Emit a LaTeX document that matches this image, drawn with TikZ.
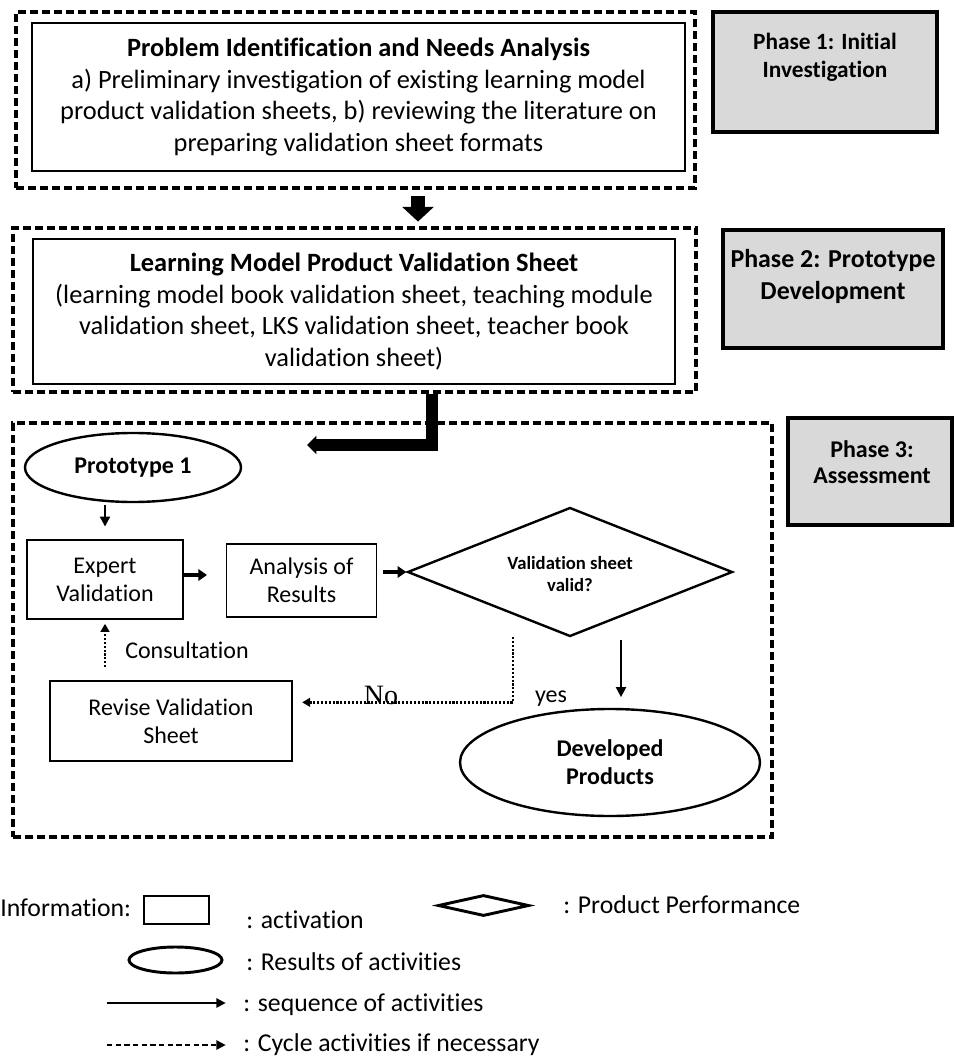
\documentclass[tikz,border=0pt]{standalone}
\usepackage{fontspec}
\setmainfont{Carlito}[Ligatures=NoCommon]
\newfontfamily\timesfont{Liberation Serif}
\usetikzlibrary{arrows.meta,shapes.geometric}
\definecolor{phgray}{HTML}{D9D9D9}
\newcommand\pxu{0.75pt}
\newcommand\maintext{\fontsize{19.8}{23.8}\selectfont}
\newcommand\smalltext{\fontsize{18}{21}\selectfont}
\newcommand\legtext{\fontsize{19.3}{22}\selectfont}
\tikzset{
  dashbox/.style={draw, line width=2.6pt, dash pattern=on 6pt off 3pt, inner sep=0pt},
  bigbox/.style={draw, line width=1.2pt, inner sep=0pt, align=center, font=\maintext},
  smallbox/.style={draw, line width=1.2pt, inner sep=0pt, align=center, font=\smalltext},
  ellnode/.style={draw, ellipse, line width=1.8pt, inner sep=0pt, align=center, font=\smalltext\bfseries},
  phasebox/.style={draw, line width=3pt, fill=phgray, inner sep=0pt},
  phasetxt/.style={inner sep=0pt, align=center},
  txt/.style={inner sep=0pt, font=\smalltext},
  legtxt/.style={inner sep=0pt, font=\legtext, anchor=west},
  arrA/.style={-{Triangle[length=7.5pt,width=7.5pt]}, line width=1.6pt},
  arrB/.style={-{Triangle[length=6.5pt,width=8.5pt]}, line width=2.4pt},
  dotarr/.style={-{Triangle[length=6pt,width=6.5pt]}, line width=1.8pt, dash pattern=on 1.6pt off 1.3pt},
  bigarrow/.style={-{Triangle[length=11pt,width=23pt]}, line width=10pt},
  elbowarrow/.style={-{Triangle[length=7pt,width=13.5pt]}, line width=8.5pt},
  legarr/.style={-{Triangle[length=7pt,width=7pt]}, line width=1.3pt},
}
\begin{document}
\begin{tikzpicture}[x=0.75pt,y=-0.75pt]
\useasboundingbox (0,0) rectangle (954,1059);

% ---------- Phase 1 ----------
\node[dashbox, minimum width=679*\pxu, minimum height=176*\pxu] (d1) at (355.5,100) {};
\node[bigbox, minimum width=653*\pxu, minimum height=148*\pxu] (b1) at (358.5,97)
  {\textbf{Problem Identification and Needs Analysis}\\
   a) Preliminary investigation of existing learning model\\
   product validation sheets, b) reviewing the literature on\\
   preparing validation sheet formats};
\node[phasebox, minimum width=224*\pxu, minimum height=120*\pxu] (p1) at (825,72) {};
\node[phasetxt, font=\fontsize{17.5}{21}\selectfont\bfseries] (p1t) at (825,57) {Phase 1: Initial\\Investigation};

% ---------- Phase 2 ----------
\node[dashbox, minimum width=683*\pxu, minimum height=164*\pxu] (d2) at (354.5,310) {};
\node[bigbox, minimum width=642*\pxu, minimum height=145*\pxu] (b2) at (354,311.5)
  {\textbf{Learning Model Product Validation Sheet}\\
   (learning model book validation sheet, teaching module\\
   validation sheet, LKS validation sheet, teacher book\\
   validation sheet)};
\node[phasebox, minimum width=220*\pxu, minimum height=118*\pxu] (p2) at (833,289) {};
\node[phasetxt, font=\fontsize{19.4}{24}\selectfont\bfseries] (p2t) at (833,276) {Phase 2: Prototype\\Development};

\coordinate (a1) at (418,195);
\draw[bigarrow, shorten <=5pt, shorten >=3.5pt] (a1 |- d1.south) -- (a1 |- d2.north);

% ---------- Phase 3 ----------
\node[dashbox, minimum width=759*\pxu, minimum height=414*\pxu] (d3) at (392.5,630) {};
\node[phasebox, minimum width=164*\pxu, minimum height=107*\pxu] (p3) at (870,471.5) {};
\node[phasetxt, font=\fontsize{18}{20}\selectfont\bfseries] (p3t) at (872,462) {Phase 3:\\Assessment};

\coordinate (elb) at (432,445);
\coordinate (elbend) at (307,445);
\draw[elbowarrow] (elb |- d2.south) |- (elbend);

\node[ellnode, minimum width=216*\pxu, minimum height=69*\pxu] (proto) at (133,467.5) {Prototype 1};
\node[smallbox, minimum width=156*\pxu, minimum height=79*\pxu] (expert) at (105,579.5) {Expert\\Validation};
\node[smallbox, minimum width=150*\pxu, minimum height=73*\pxu] (analysis) at (301.5,580.5) {Analysis of\\Results};
\node[diamond, draw, line width=1.8pt, minimum width=325*\pxu, minimum height=129*\pxu, inner sep=0pt] (dia) at (570,572) {};
\node[phasetxt, font=\fontsize{14}{17}\selectfont\bfseries] (diat) at (570,574) {Validation sheet\\valid?};
\node[ellnode, minimum width=300*\pxu, minimum height=107*\pxu] (dev) at (610,762.5) {Developed\\Products};
\node[smallbox, minimum width=242*\pxu, minimum height=80*\pxu] (revise) at (171,721) {Revise Validation\\Sheet};

\draw[arrA, shorten <=1pt, shorten >=9.5pt] (proto.south -| expert.north) -- (expert.north);
\coordinate (eay) at (0,575);
\draw[arrB, shorten >=14pt] (expert.east |- eay) -- (analysis.west |- eay);
\draw[arrB, shorten <=4pt] (analysis.east |- dia.west) -- (dia.west);

\coordinate (yesc) at (621,640);
\draw[arrA, shorten >=8pt] (yesc) -- (yesc |- dev.north);

\coordinate (noc) at (513,637);
\draw[dotarr, shorten >=7pt] (noc) |- ([yshift=14pt]revise.east);
\node[inner sep=0pt, font=\timesfont\fontsize{21}{22}\selectfont, anchor=base] (notxt) at (381,704) {No};
\node[txt, anchor=base] (yestxt) at (551,702) {yes};

\draw[dotarr, shorten <=9.75pt, shorten >=3pt] (revise.north -| expert.south) -- (expert.south);
\node[txt] (cons) at (187,650) {Consultation};

% ---------- Legend ----------
\node[legtxt] (info) at (0,908) {Information:};
\node[draw, line width=2.2pt, minimum width=65*\pxu, minimum height=28*\pxu, inner sep=0pt] (lrect) at (176.5,910) {};
\node[legtxt] (lrectt) at (246,920) {: activation};
\node[diamond, draw, line width=2.2pt, minimum width=91*\pxu, minimum height=21*\pxu, inner sep=0pt] (ldia) at (483.5,905.5) {};
\node[legtxt] (ldiat) at (563,905) {: Product Performance};
\node[ellipse, draw, line width=2.2pt, minimum width=93*\pxu, minimum height=26*\pxu, inner sep=0pt] (lell) at (175.5,960) {};
\node[legtxt] (lellt) at (246,962) {: Results of activities};
\coordinate (ls1) at (107,1003);
\node[legtxt] (lseq) at (243,1005) {: sequence of activities};
\draw[legarr] (ls1) -- ([xshift=-13pt]lseq.west |- ls1);
\coordinate (ls2) at (107,1045);
\node[legtxt] (lcyc) at (243,1045) {: Cycle activities if necessary};
\draw[legarr, dash pattern=on 4pt off 2.5pt] (ls2) -- ([xshift=-13pt]lcyc.west |- ls2);
\end{tikzpicture}
\end{document}
